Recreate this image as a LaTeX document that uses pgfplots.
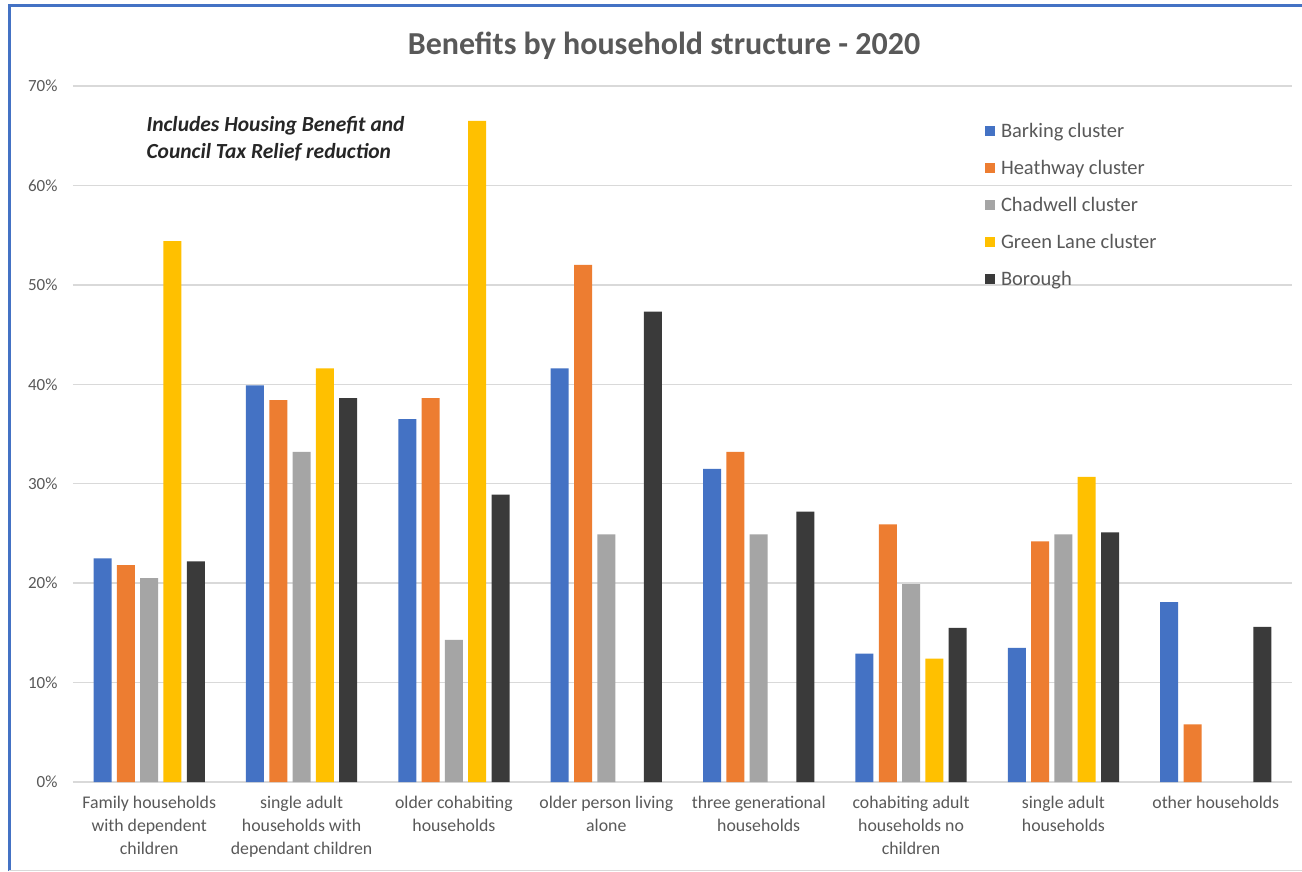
\documentclass[border=0pt]{standalone}
\usepackage{fontspec}
\setmainfont{Carlito}
\usepackage{pgfplots}
\pgfplotsset{compat=1.18}
\definecolor{cBark}{HTML}{4472C4}
\definecolor{cHeath}{HTML}{ED7D31}
\definecolor{cChad}{HTML}{A5A5A5}
\definecolor{cGreen}{HTML}{FFC000}
\definecolor{cBoro}{HTML}{3A3A3A}
\definecolor{cText}{HTML}{595959}
\definecolor{cGrid}{HTML}{D9D9D9}
\definecolor{cFrame}{HTML}{4472C4}
\begin{document}
\begin{tikzpicture}
\path[use as bounding box] (0pt,0pt) rectangle (1302pt,871pt);
\fill[white] (0pt,0pt) rectangle (1302pt,871pt);
\draw[color=cFrame, line width=3pt] (9pt,0pt) -- (9pt,865pt) -- (1302pt,865pt);
\draw[color=cGrid, line width=1pt] (9pt,1pt) -- (1302pt,1pt);
\node[font=\fontsize{32}{36}\selectfont\bfseries, text=cText] at (664pt,825pt) {Benefits by household structure - 2020};
\node[anchor=west, align=left, font=\fontsize{21.5}{27}\selectfont\bfseries\itshape, text=black!85] at (143pt,732pt) {Includes Housing Benefit and\\Council Tax Relief reduction};
\begin{axis}[
  at={(73pt,89pt)}, anchor=south west,
  scale only axis, width=1219pt, height=696pt,
  xmin=-0.5, xmax=7.5, ymin=0, ymax=70,
  ybar=5.3pt, bar width=18pt,
  axis line style={draw=none},
  major tick length=0pt,
  ymajorgrids, grid style={color=cGrid, line width=1.3pt},
  ytick={0,10,...,70},
  yticklabel={\pgfmathprintnumber{\tick}\%},
  /pgf/number format/assume math mode=true,
  yticklabel style={font=\fontsize{17}{20}\selectfont, text=cText, xshift=-12pt},
  xtick={0,...,7},
  xticklabels={{Family households\\with dependent\\children},{single adult\\households with\\dependant children},{older cohabiting\\households},{older person living\\alone},{three generational\\households},{cohabiting adult\\households no\\children},{single adult\\households},{other households}},
  xticklabel style={font=\fontsize{17.8}{23}\selectfont, text=cText, align=center, yshift=-11pt},
  legend cell align=left,
  legend style={draw=none, fill=none, at={(axis description cs:0.748,0.950)}, anchor=north west,
    font=\fontsize{20.5}{24}\selectfont, text=cText, row sep=17.3pt, column sep=4pt, inner sep=0pt},
  legend image code/.code={\fill[#1] (0pt,-5pt) rectangle (10pt,5pt);},
]
\addplot[fill=cBark, draw=none] coordinates {(0,22.5)(1,39.9)(2,36.5)(3,41.6)(4,31.5)(5,12.9)(6,13.5)(7,18.1)};
\addplot[fill=cHeath, draw=none] coordinates {(0,21.8)(1,38.4)(2,38.6)(3,52.0)(4,33.2)(5,25.9)(6,24.2)(7,5.8)};
\addplot[fill=cChad, draw=none] coordinates {(0,20.5)(1,33.2)(2,14.3)(3,24.9)(4,24.9)(5,19.9)(6,24.9)};
\addplot[fill=cGreen, draw=none] coordinates {(0,54.4)(1,41.6)(2,66.5)(5,12.4)(6,30.7)};
\addplot[fill=cBoro, draw=none] coordinates {(0,22.2)(1,38.6)(2,28.9)(3,47.3)(4,27.2)(5,15.5)(6,25.1)(7,15.6)};
\legend{Barking cluster, Heathway cluster, Chadwell cluster, Green Lane cluster, Borough}
\end{axis}
\end{tikzpicture}
\end{document}
